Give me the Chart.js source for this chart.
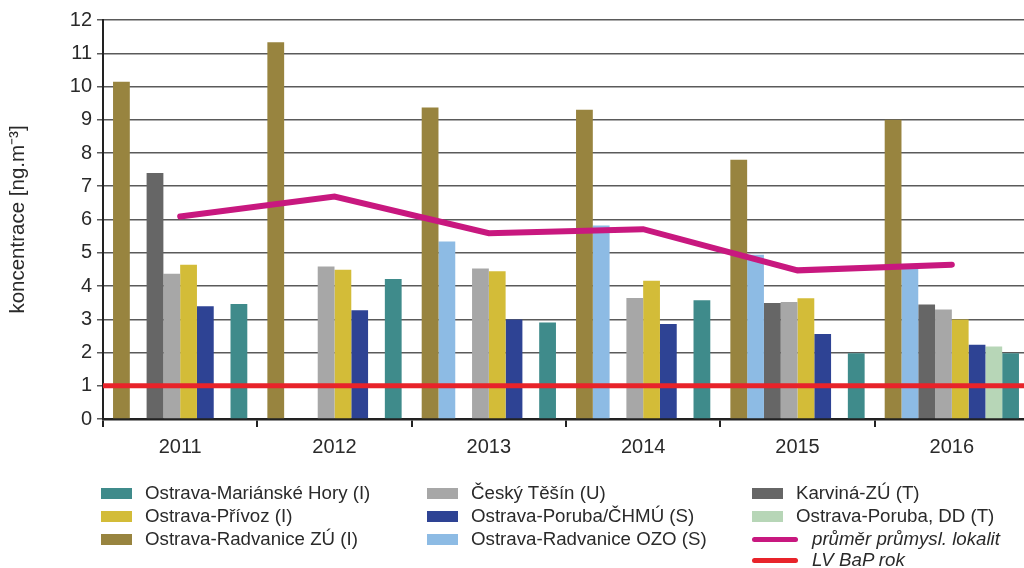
<!DOCTYPE html>
<html>
<head>
<meta charset="utf-8">
<script src="https://cdn.jsdelivr.net/npm/chart.js@4/dist/chart.umd.min.js"></script>
<style>
  html, body { margin: 0; padding: 0; background: #fff; overflow: hidden; width: 1024px; height: 568px; }
  #wrap { position: absolute; left: 0; top: 0; width: 1029px; height: 460px; }
  #legend { position: absolute; left: 0; top: 0; width: 1024px; height: 568px; pointer-events: none;
            font-family: "Liberation Sans", Arial, sans-serif; font-size: 18.7px; color: #2a2a2a; }
  .item { position: absolute; white-space: nowrap; line-height: 22px; height: 22px; }
  .sw { position: absolute; top: 6px; width: 31px; height: 11px; }
  .ln { position: absolute; top: 9px; width: 46px; height: 5px; border-radius: 3px; }
  .tx { position: absolute; top: 0; }
  .it { font-style: italic; }
</style>
</head>
<body>
<div id="wrap"><canvas id="myChart" width="1029" height="460"></canvas></div>
<div id="legend"></div>
<script>
const years = ['2011', '2012', '2013', '2014', '2015', '2016'];

const radvaniceZU   = [10.14, 11.33, 9.37, 9.30, 7.80, 9.00];
const radvaniceOZO  = [null, null, 5.34, 5.82, 4.94, 4.62];
const karvina       = [7.40, null, null, null, 3.49, 3.44];
const ceskyTesin    = [4.37, 4.59, 4.53, 3.64, 3.52, 3.29];
const privoz        = [4.64, 4.49, 4.44, 4.16, 3.63, 2.99];
const porubaCHMU    = [3.39, 3.27, 2.99, 2.86, 2.56, 2.23];
const porubaDD      = [null, null, null, null, null, 2.18];
const marianskeHory = [3.46, 4.21, 2.90, 3.57, 1.98, 1.98];
const prumer        = [6.09, 6.69, 5.59, 5.71, 4.47, 4.64];
const lvLimit = 1;
const lvLabel = 'LV BaP rok';
const lvColor = '#e8232a';

const yTicks = [0, 1, 2, 3, 4, 5, 6, 7, 8, 9, 10, 11, 12];

const FONT = '"Liberation Sans", Arial, sans-serif';
const TEXT = '#2a2a2a';

const bar = (label, data, color) => ({
  type: 'bar', label, data, backgroundColor: color, borderWidth: 0, order: 2,
  categoryPercentage: 0.87, barPercentage: 1.0
});

const datasets = [
  bar('Ostrava-Radvanice ZÚ (I)', radvaniceZU, '#98843f'),
  bar('Ostrava-Radvanice OZO (S)', radvaniceOZO, '#8dbbe4'),
  bar('Karviná-ZÚ (T)', karvina, '#666666'),
  bar('Český Těšín (U)', ceskyTesin, '#a7a7a7'),
  bar('Ostrava-Přívoz (I)', privoz, '#d3bc38'),
  bar('Ostrava-Poruba/ČHMÚ (S)', porubaCHMU, '#2e4394'),
  bar('Ostrava-Poruba, DD (T)', porubaDD, '#b7d6b7'),
  bar('Ostrava-Mariánské Hory (I)', marianskeHory, '#3f8b8b'),
  {
    type: 'line', label: 'průměr průmysl. lokalit', data: prumer,
    borderColor: '#c8187f', borderWidth: 6, pointRadius: 0, tension: 0, order: 0,
    borderCapStyle: 'round'
  }
];

// limit value runs across the whole plot width, not just category centres
const limitLine = {
  id: 'limitLine',
  afterDatasetsDraw(chart) {
    const { ctx, chartArea, scales } = chart;
    const y = scales.y.getPixelForValue(lvLimit);
    ctx.save();
    ctx.strokeStyle = lvColor;
    ctx.lineWidth = 5;
    ctx.beginPath();
    ctx.moveTo(chartArea.left, y);
    ctx.lineTo(chartArea.right, y);
    ctx.stroke();
    ctx.restore();
  }
};

const ctx = document.getElementById('myChart');

const myChart = new Chart(ctx, {
  type: 'bar',
  data: { labels: years, datasets },
  plugins: [limitLine],
  options: {
    responsive: false,
    animation: false,
    layout: { padding: { top: 20, left: 0, right: 0, bottom: 0 } },
    plugins: { legend: { display: false }, tooltip: { enabled: false } },
    scales: {
      x: {
        offset: true,
        grid: { offset: true, drawOnChartArea: false, drawTicks: true, tickLength: 8, color: '#222', lineWidth: 2 },
        border: { color: '#222', width: 2.5 },
        ticks: { color: TEXT, font: { family: FONT, size: 20 }, padding: 8 },
        afterFit: (s) => { s.height = 41; }
      },
      y: {
        min: 0, max: 12,
        afterBuildTicks: (s) => { s.ticks = yTicks.map(v => ({ value: v })); },
        grid: { color: '#5a5a5a', lineWidth: 1.5, tickLength: 6 },
        border: { color: '#222', width: 2 },
        ticks: { color: TEXT, font: { family: FONT, size: 20 }, padding: 5 },
        title: {
          display: true, text: 'koncentrace [ng.m⁻³]', color: TEXT,
          font: { family: FONT, size: 20.5 }, padding: { top: 6, bottom: 0 }
        },
        afterFit: (s) => { s.width = 103; }
      }
    }
  }
});

// legend laid out in three columns like the original
const ds = myChart.data.datasets;
const entry = (i) => ({ label: ds[i].label, color: ds[i].type === 'line' ? ds[i].borderColor : ds[i].backgroundColor, line: ds[i].type === 'line' });
const legendColumns = [
  { x: 101, items: [entry(7), entry(4), entry(0)] },
  { x: 427, items: [entry(3), entry(5), entry(1)] },
  { x: 752, items: [entry(2), entry(6), entry(8), { label: lvLabel, color: lvColor, line: true }] }
];
const rowTops = [482, 505, 528, 549];
const legendBox = document.getElementById('legend');
legendColumns.forEach(col => {
  col.items.forEach((it, r) => {
    const el = document.createElement('div');
    el.className = 'item';
    el.style.left = col.x + 'px';
    el.style.top = rowTops[r] + 'px';
    const sw = document.createElement('span');
    sw.className = it.line ? 'ln' : 'sw';
    sw.style.left = '0px';
    sw.style.background = it.color;
    const tx = document.createElement('span');
    tx.className = 'tx' + (it.line ? ' it' : '');
    tx.style.left = (it.line ? 60 : 44) + 'px';
    tx.textContent = it.label;
    el.appendChild(sw);
    el.appendChild(tx);
    legendBox.appendChild(el);
  });
});
</script>
</body>
</html>
